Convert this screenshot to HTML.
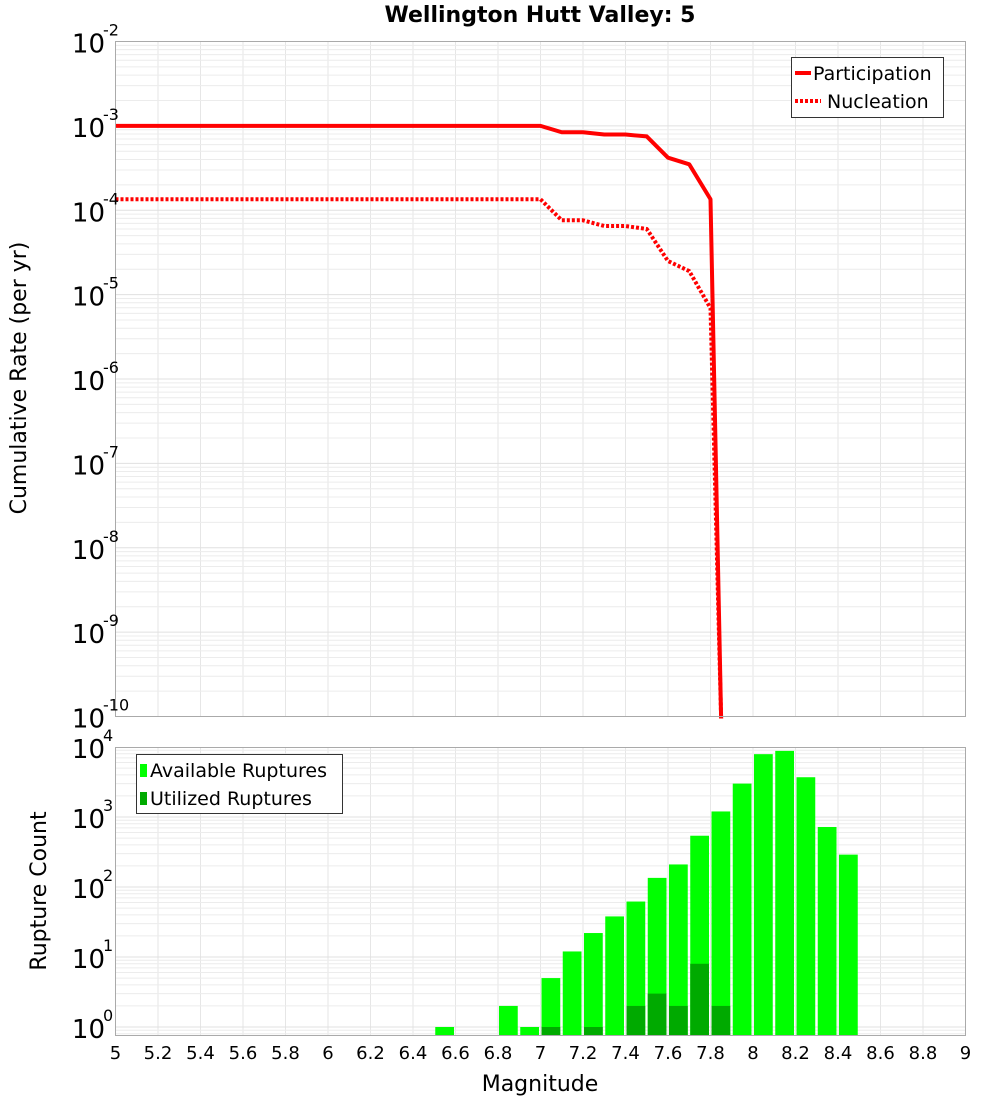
<!DOCTYPE html>
<html><head><meta charset="utf-8"><style>
body{margin:0;background:#fff;}
svg{display:block;font-family:"DejaVu Sans","Liberation Sans",sans-serif;}
</style></head><body>
<svg id="c" width="1000" height="1100" xmlns="http://www.w3.org/2000/svg">
<text x="540" y="22" text-anchor="middle" font-size="22" font-weight="bold">Wellington Hutt Valley: 5</text>
<g id="topPlot"></g>
<g id="botPlot"></g>
<text transform="translate(26,378) rotate(-90)" text-anchor="middle" font-size="22">Cumulative Rate (per yr)</text>
<text transform="translate(46,891) rotate(-90)" text-anchor="middle" font-size="22">Rupture Count</text>
<text x="540" y="1091" text-anchor="middle" font-size="22">Magnitude</text>
<g>
<rect x="791.5" y="57.5" width="152" height="60" fill="#fff" stroke="#333"/>
<line x1="795" y1="73" x2="811" y2="73" stroke="#f00" stroke-width="4"/>
<text x="813" y="80" font-size="19">Participation</text>
<line x1="795" y1="101" x2="821" y2="101" stroke="#f00" stroke-width="4" stroke-dasharray="3,2"/>
<text x="827" y="108" font-size="19">Nucleation</text>
</g>
<g id="legend2">
<rect x="136.5" y="754.5" width="206" height="59" fill="#fff" stroke="#333"/>
<rect x="140" y="764" width="7" height="13" fill="#00ff00"/>
<text x="150" y="777" font-size="19">Available Ruptures</text>
<rect x="140" y="792" width="7" height="13" fill="#00aa00"/>
<text x="150" y="805" font-size="19">Utilized Ruptures</text>
</g>
</svg>
<script>
const xTicks=[5,5.2,5.4,5.6,5.8,6,6.2,6.4,6.6,6.8,7,7.2,7.4,7.6,7.8,8,8.2,8.4,8.6,8.8,9];
const mags=[5,7.0,7.1,7.2,7.3,7.4,7.5,7.6,7.7,7.8,7.85];
const participation=[1e-3,1e-3,8.4e-4,8.4e-4,7.9e-4,7.9e-4,7.5e-4,4.2e-4,3.5e-4,1.35e-4,1e-11];
const nucleation=[1.35e-4,1.35e-4,7.6e-5,7.6e-5,6.5e-5,6.5e-5,6.0e-5,2.5e-5,1.9e-5,6.9e-6,1e-11];
const binMags=[6.5,6.8,6.9,7.0,7.1,7.2,7.3,7.4,7.5,7.6,7.7,7.8,7.9,8.0,8.1,8.2,8.3,8.4];
const available=[1,2,1,5,12,22,38,62,135,210,540,1200,3000,7900,8800,3700,720,290];
const utilized=[0,0,0,1,0,1,0,2,3,2,8,2,0,0,0,0,0,0];
const rateExps=[-2,-3,-4,-5,-6,-7,-8,-9,-10];
const countExps=[0,1,2,3,4];

const NS="http://www.w3.org/2000/svg";
const L=115.5,R=965.5;
const X=m=>L+(m-5)*(R-L)/4;
const T1=41.5,B1=716.5;
const Y1=v=>T1+(-2-Math.log10(v))*(B1-T1)/8;
const T2=747.5,B2=1035.5;
const Y2=v=>1027-70*Math.log10(v);
function mk(p,tag,a){const e=document.createElementNS(NS,tag);for(const k in a)e.setAttribute(k,a[k]);p.appendChild(e);return e;}
const gTop=document.getElementById('topPlot'),gBot=document.getElementById('botPlot');

function grid(g,T,B,decs,Yf){
  for(const t of xTicks){const l=mk(g,'line',{x1:X(t),x2:X(t),y1:T,y2:B,stroke:'#e6e6e6'});
    
    }
  for(const d of decs){for(let k=1;k<10;k++){const y=Yf(k*Math.pow(10,d));if(y<T||y>B)continue;
    const l=mk(g,'line',{x1:L,x2:R,y1:y,y2:y,stroke:k==1?'#e0e0e0':'#ececec'});
    
    }}
}
grid(gTop,T1,B1,[-10,-9,-8,-7,-6,-5,-4,-3],Y1);
grid(gBot,T2,B2,[-1,0,1,2,3],Y2);

function series(arr,dash,name){
  const pts=mags.map((m,i)=>X(m)+','+Math.min(Y1(arr[i]),B1+2)).join(' ');
  const a={points:pts,fill:'none',stroke:'#f00','stroke-width':4,'stroke-linejoin':'round'};
  if(dash)a['stroke-dasharray']='3,2';
  const p=mk(gTop,'polyline',a);
  
  
}
series(nucleation,true,'nucleation-line');
series(participation,false,'participation-line');

const bw=(R-L)/40;
binMags.forEach((m,i)=>{
  const x=X(m)+1,w=bw-2.5;
  const y=Y2(available[i]);
  const r=mk(gBot,'rect',{x:x,y:y,width:w,height:B2-y,fill:'#00ff00'});
  
  
  if(utilized[i]>0){const yu=Y2(utilized[i]);
    const u=mk(gBot,'rect',{x:x,y:yu,width:w,height:B2-yu,fill:'#00aa00'});
    
    }
});

const f1=mk(gTop,'rect',{x:L,y:T1,width:R-L,height:B1-T1,fill:'none',stroke:'#aaa'});


const f2=mk(gBot,'rect',{x:L,y:T2,width:R-L,height:B2-T2,fill:'none',stroke:'#aaa'});



function ylab(g,y,e,name){
  const t=mk(g,'text',{x:105,y:y+11,'text-anchor':'end','font-size':26});
  
  
  t.textContent='10';
  const s=mk(g,'text',{x:103,y:y-6,'font-size':16});
  
  
  s.textContent=String(e);
}
rateExps.forEach(e=>ylab(gTop,Y1(Math.pow(10,e)),e,'y-tick-rate'));
countExps.forEach(e=>ylab(gBot,Y2(Math.pow(10,e)),e,'y-tick-count'));

xTicks.forEach(t=>{
  const tx=mk(gBot,'text',{x:X(t),y:1059,'text-anchor':'middle','font-size':18});
  
  
  tx.textContent=String(t);
});

// keep legend above bars
const svg=document.getElementById('c');
svg.appendChild(document.getElementById('legend2'));
</script>
</body></html>
